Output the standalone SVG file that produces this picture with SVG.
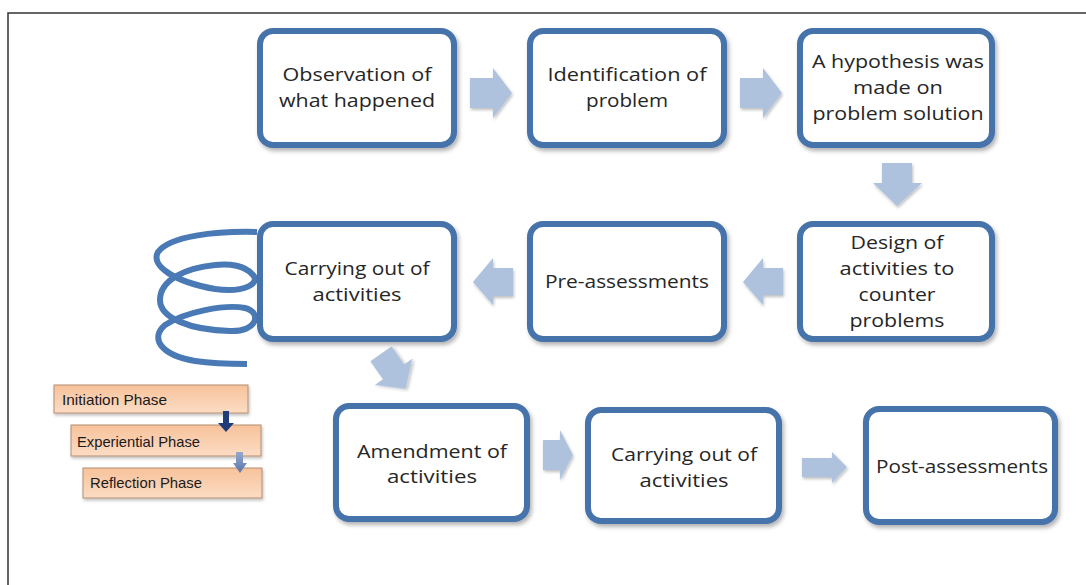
<svg xmlns="http://www.w3.org/2000/svg" width="1086" height="585" viewBox="0 0 1086 585">
  <defs>
    <filter id="sh" x="-10%" y="-10%" width="125%" height="130%">
      <feDropShadow dx="2" dy="3" stdDeviation="2" flood-color="#000" flood-opacity="0.3"/>
    </filter>
    <filter id="sh2" x="-20%" y="-20%" width="150%" height="160%">
      <feDropShadow dx="1" dy="2" stdDeviation="1.5" flood-color="#000" flood-opacity="0.25"/>
    </filter>
    <linearGradient id="peach" x1="0" y1="0" x2="0" y2="1">
      <stop offset="0" stop-color="#f7c29a"/>
      <stop offset="1" stop-color="#fcdcc4"/>
    </linearGradient>
    <linearGradient id="lightArrow" x1="0" y1="0" x2="0" y2="1">
      <stop offset="0" stop-color="#95a9cc"/>
      <stop offset="1" stop-color="#5a76a8"/>
    </linearGradient>
    <path id="rarrow" d="M0,-15 L23,-15 L23,-25 L42,0 L23,25 L23,15 L0,15 Z"/>
  </defs>
  <style>
    .box { fill: #ffffff; stroke: #4673ab; stroke-width: 6; filter: url(#sh); }
    .t { font-family: "Open Sans", "Liberation Sans", sans-serif; font-size: 19px; fill: #262626; }
    .arr { fill: #aec2de; filter: url(#sh2); }
    .phase { fill: url(#peach); stroke: #b38e73; stroke-width: 1; filter: url(#sh2); }
    .pt { font-family: "Liberation Sans", "Open Sans", sans-serif; font-size: 15px; fill: #1a1a1a; }
    .frame { fill: none; stroke: #333333; stroke-width: 1.5; }
  </style>

  <rect width="1086" height="585" fill="#ffffff"/>
  <path class="frame" d="M8,585 L8,13 L1086,13"/>

  <g id="spiral">
    <path fill="none" stroke="#4a7ab6" stroke-width="6" d="M257,232 C215,231 170,236 158,252 C150,266 175,282 215,289 C245,293 262,283 252,274 C245,266 230,263 215,265 C185,268 160,280 160,300 C160,318 190,330 230,331 C258,332 262,312 245,308 C225,304 185,312 165,325 C150,338 160,355 195,361 C215,364 232,364 247,364"/>
  </g>

  <g id="n1">
    <rect class="box" x="260" y="31" width="194" height="114" rx="13"/>
    <text class="t" x="357" y="81" text-anchor="middle" textLength="149" lengthAdjust="spacingAndGlyphs">Observation of</text>
    <text class="t" x="357" y="107" text-anchor="middle" textLength="156" lengthAdjust="spacingAndGlyphs">what happened</text>
  </g>
  <g id="n2">
    <rect class="box" x="530" y="31" width="194" height="114" rx="13"/>
    <text class="t" x="627" y="81" text-anchor="middle" textLength="159" lengthAdjust="spacingAndGlyphs">Identification of</text>
    <text class="t" x="627" y="107" text-anchor="middle" textLength="82" lengthAdjust="spacingAndGlyphs">problem</text>
  </g>
  <g id="n3">
    <rect class="box" x="800" y="31" width="192" height="114" rx="13"/>
    <text class="t" x="898" y="68" text-anchor="middle" textLength="172" lengthAdjust="spacingAndGlyphs">A hypothesis was</text>
    <text class="t" x="898" y="94" text-anchor="middle" textLength="90" lengthAdjust="spacingAndGlyphs">made  on</text>
    <text class="t" x="898" y="120" text-anchor="middle" textLength="171" lengthAdjust="spacingAndGlyphs">problem solution</text>
  </g>
  <g id="n4">
    <rect class="box" x="800" y="224" width="192" height="115" rx="13"/>
    <text class="t" x="897" y="249" text-anchor="middle" textLength="93" lengthAdjust="spacingAndGlyphs">Design of</text>
    <text class="t" x="897" y="275" text-anchor="middle" textLength="115" lengthAdjust="spacingAndGlyphs">activities to</text>
    <text class="t" x="897" y="301" text-anchor="middle" textLength="77" lengthAdjust="spacingAndGlyphs">counter</text>
    <text class="t" x="897" y="327" text-anchor="middle" textLength="95" lengthAdjust="spacingAndGlyphs">problems</text>
  </g>
  <g id="n5">
    <rect class="box" x="530" y="224" width="194" height="115" rx="13"/>
    <text class="t" x="627" y="288" text-anchor="middle" textLength="164" lengthAdjust="spacingAndGlyphs">Pre-assessments</text>
  </g>
  <g id="n6">
    <rect class="box" x="260" y="224" width="194" height="115" rx="13"/>
    <text class="t" x="357" y="275" text-anchor="middle" textLength="145" lengthAdjust="spacingAndGlyphs">Carrying out of</text>
    <text class="t" x="357" y="301" text-anchor="middle" textLength="89" lengthAdjust="spacingAndGlyphs">activities</text>
  </g>
  <g id="n7">
    <rect class="box" x="336" y="406" width="191" height="113" rx="13"/>
    <text class="t" x="432" y="458" text-anchor="middle" textLength="150" lengthAdjust="spacingAndGlyphs">Amendment of</text>
    <text class="t" x="432" y="483" text-anchor="middle" textLength="90" lengthAdjust="spacingAndGlyphs">activities</text>
  </g>
  <g id="n8">
    <rect class="box" x="588" y="410" width="191" height="111" rx="13"/>
    <text class="t" x="684" y="461" text-anchor="middle" textLength="146" lengthAdjust="spacingAndGlyphs">Carrying out of</text>
    <text class="t" x="684" y="487" text-anchor="middle" textLength="89" lengthAdjust="spacingAndGlyphs">activities</text>
  </g>
  <g id="n9">
    <rect class="box" x="866" y="409" width="189" height="113" rx="13"/>
    <text class="t" x="962" y="473" text-anchor="middle" textLength="172" lengthAdjust="spacingAndGlyphs">Post-assessments</text>
  </g>

  <g id="phase1">
    <rect class="phase" x="54" y="385" width="194" height="28"/>
    <text class="pt" x="62" y="405" textLength="105" lengthAdjust="spacingAndGlyphs">Initiation Phase</text>
  </g>
  <g id="phase2">
    <rect class="phase" x="71" y="425" width="190" height="31"/>
    <text class="pt" x="77" y="447" textLength="123" lengthAdjust="spacingAndGlyphs">Experiential Phase</text>
  </g>
  <g id="phase3">
    <rect class="phase" x="83" y="468" width="179" height="30"/>
    <text class="pt" x="90" y="488" textLength="112" lengthAdjust="spacingAndGlyphs">Reflection Phase</text>
  </g>

  <g id="connectors">
    <use href="#rarrow" class="arr" transform="translate(470,93)"/>
    <use href="#rarrow" class="arr" transform="translate(740,93)"/>
    <path class="arr" d="M882,163 L912,163 L912,183 L922,183 L897,206 L873,183 L882,183 Z"/>
    <path class="arr" d="M783,268 L763,268 L763,258 L743,282 L763,305 L763,295 L783,295 Z"/>
    <path class="arr" d="M513,268 L493,268 L493,258 L473,282 L493,305 L493,296 L513,296 Z"/>
    <path class="arr" transform="translate(393,371) rotate(-35)" d="M-13,-21 L13,-21 L13,1 L23,1 L0,22 L-23,1 L-13,1 Z"/>
    <path class="arr" d="M543,440 L560,440 L560,430 L573,455 L560,480 L560,470 L543,470 Z"/>
    <path class="arr" d="M802,458 L832,458 L832,452 L847,467 L832,483 L832,477 L802,477 Z"/>
    <path d="M223,411 L229,411 L229,423 L234,423 L226,432 L218,423 L223,423 Z" fill="#1f3b78"/>
    <path d="M236,452 L243,452 L243,463 L247,463 L240,473 L233,463 L236,463 Z" fill="url(#lightArrow)"/>
  </g>
</svg>
